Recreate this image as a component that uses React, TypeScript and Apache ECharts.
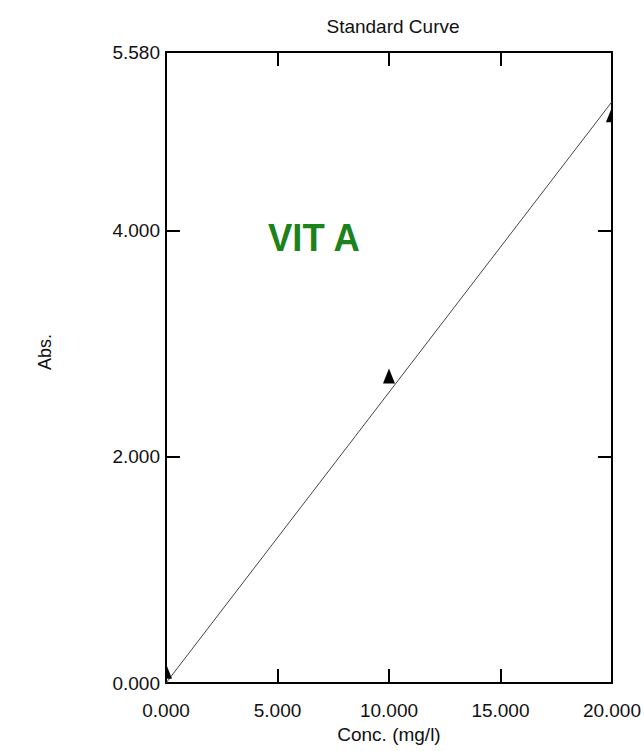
import React, { useEffect, useRef } from "react";
import * as echarts from "echarts";

const xTicks = [0, 5, 10, 15, 20];
const concValues = [0, 10, 20];
const absValues = [0.1, 2.71, 5.02];
const fitX = [0, 20];
const fitY = [0, 5.14];
const yMax = 5.58;
const titleText = "Standard Curve";
const xName = "Conc. (mg/l)";
const yName = "Abs.";
const annotation = "VIT A";

const FONT = "'Liberation Sans', Arial, sans-serif";

export default function App() {
  const ref = useRef<HTMLDivElement>(null);
  useEffect(() => {
    document.body.style.margin = "0";
    const chart = echarts.init(ref.current!, null, { renderer: "svg" });
    const axisLine = { show: true, onZero: false, lineStyle: { color: "#000", width: 2 } };
    const tick = { show: true, inside: true, length: 14, lineStyle: { color: "#000", width: 2 } };
    const fmt = (v: number) => v.toFixed(3);
    chart.setOption({
      animation: false,
      backgroundColor: "#fff",
      textStyle: { fontFamily: FONT },
      title: {
        text: titleText,
        left: 388,
        top: 12,
        textAlign: "center",
        textStyle: { fontFamily: FONT, fontSize: 19, fontWeight: "normal", color: "#111" },
      },
      grid: { left: 166, right: 32, top: 52, bottom: 68, containLabel: false },
      xAxis: [
        {
          type: "value",
          min: xTicks[0],
          max: xTicks[xTicks.length - 1],
          interval: 5,
          position: "bottom",
          axisLine,
          axisTick: tick,
          splitLine: { show: false },
          axisLabel: { formatter: fmt, fontSize: 19, color: "#111", margin: 18, fontFamily: FONT },
          name: xName,
          nameLocation: "middle",
          nameGap: 42,
          nameTextStyle: { fontSize: 19, color: "#111", fontFamily: FONT },
        },
        {
          type: "value",
          min: xTicks[0],
          max: xTicks[xTicks.length - 1],
          interval: 5,
          position: "top",
          axisLine,
          axisTick: tick,
          splitLine: { show: false },
          axisLabel: { show: false },
        },
      ],
      yAxis: [
        {
          type: "value",
          min: 0,
          max: yMax,
          interval: 2,
          position: "left",
          axisLine,
          axisTick: tick,
          splitLine: { show: false },
          axisLabel: {
            formatter: fmt,
            fontSize: 19,
            color: "#111",
            margin: 6,
            fontFamily: FONT,
            showMaxLabel: true,
          },
        },
        {
          type: "value",
          min: 0,
          max: yMax,
          interval: 2,
          position: "right",
          axisLine,
          axisTick: tick,
          splitLine: { show: false },
          axisLabel: { show: false },
        },
      ],
      graphic: [
        {
          type: "text",
          left: 268,
          top: 219,
          scaleX: 0.96,
          style: {
            text: annotation,
            font: `bold 38px ${FONT}`,
            fill: "#1c821c",
          },
          z: 10,
        },
        {
          type: "text",
          x: 45,
          y: 352,
          rotation: Math.PI / 2,
          style: {
            text: yName,
            font: `18px ${FONT}`,
            fill: "#111",
            textAlign: "center",
            textVerticalAlign: "middle",
          },
        },
      ],
      series: [
        {
          type: "line",
          xAxisIndex: 0,
          yAxisIndex: 0,
          data: fitX.map((x, i) => [x, fitY[i]]),
          showSymbol: false,
          symbol: "none",
          lineStyle: { color: "#444", width: 1 },
          clip: true,
          z: 2,
        },
        {
          type: "custom",
          xAxisIndex: 0,
          yAxisIndex: 0,
          clip: true,
          data: concValues.map((x, i) => [x, absValues[i]]),
          renderItem: (params: any, api: any) => {
            const p = api.coord([api.value(0), api.value(1)]);
            return {
              type: "polygon",
              shape: {
                points: [
                  [p[0], p[1] - 8],
                  [p[0] + 6, p[1] + 7],
                  [p[0] - 6, p[1] + 7],
                ],
              },
              style: { fill: "#000" },
            };
          },
          z: 3,
        },
      ],
    });
    return () => chart.dispose();
  }, []);
  return (
    <div
      ref={ref}
      style={{ position: "fixed", left: 0, top: 0, width: 644, height: 751, background: "#fff" }}
    />
  );
}
